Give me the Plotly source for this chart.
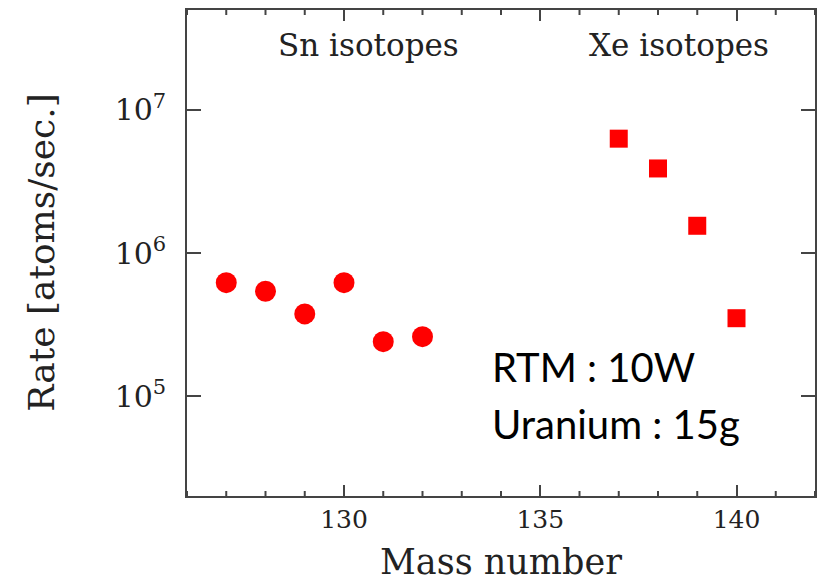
import math
import plotly.graph_objects as go

# Production rates of fission fragments at the ion source
sn_mass = [127, 128, 129, 130, 131, 132]
sn_rate = [6.2e5, 5.4e5, 3.75e5, 6.2e5, 2.4e5, 2.6e5]

xe_mass = [137, 138, 139, 140]
xe_rate = [6.3e6, 3.9e6, 1.55e6, 3.5e5]

serif = "DejaVu Serif, serif"
ink = "#222222"
axis_color = "#444444"

x_range = [126, 142]
y_range = [4.301, 7.699]  # log10 of 2e4 .. 5e7

# minor tick positions: every mass unit, and 2..9 within each decade
x_minor = [m for m in range(x_range[0], x_range[1] + 1) if m % 5]
y_minor = [math.log10(m * 10 ** e) for e in range(4, 8) for m in range(2, 10)]
y_minor = [v for v in y_minor if y_range[0] < v < y_range[1]]

fig = go.Figure()
fig.add_trace(go.Scatter(
    x=sn_mass, y=sn_rate, mode="markers", name="Sn",
    marker=dict(symbol="circle", size=21, color="#ff0000"),
))
fig.add_trace(go.Scatter(
    x=xe_mass, y=xe_rate, mode="markers", name="Xe",
    marker=dict(symbol="square", size=18, color="#ff0000"),
))

fig.update_layout(
    width=821, height=581,
    margin=dict(l=187, r=4, t=10, b=85),
    paper_bgcolor="white", plot_bgcolor="white",
    showlegend=False,
    font=dict(family=serif, color=ink),
    xaxis=dict(
        range=x_range,
        tickmode="linear", tick0=0, dtick=5,
        ticks="inside", ticklen=11, tickwidth=2, tickcolor=axis_color,
        showline=True, linewidth=2, linecolor=axis_color, mirror="allticks",
        showgrid=False, zeroline=False,
        tickfont=dict(family=serif, size=25, color=ink),
    ),
    yaxis=dict(
        type="log", range=y_range,
        tickmode="linear", tick0=0, dtick=1, exponentformat="power",
        ticks="inside", ticklen=14, tickwidth=2, tickcolor=axis_color,
        showline=True, linewidth=2, linecolor=axis_color, mirror="allticks",
        showgrid=False, zeroline=False,
        tickfont=dict(family=serif, size=24, color=ink),
        ticklabelstandoff=14,
    ),
)

# minor ticks on all four sides, drawn as short pixel-sized strokes
tick_line = dict(color=axis_color, width=2)
for m in x_minor:
    for anchor, length in ((0, 5), (1, -5)):
        fig.add_shape(type="line", xref="x", yref="paper",
                      x0=m, x1=m, ysizemode="pixel", yanchor=anchor,
                      y0=0, y1=length, line=tick_line, layer="above")
for v in y_minor:
    for anchor, length in ((0, 6), (1, -6)):
        fig.add_shape(type="line", xref="paper", yref="y",
                      y0=v, y1=v, xsizemode="pixel", xanchor=anchor,
                      x0=0, x1=length, line=tick_line, layer="above")

# axis titles
fig.add_annotation(x=-0.233, y=0.5, xref="paper", yref="paper", textangle=-90,
                   xanchor="center", yanchor="middle",
                   text="Rate [atoms/sec.]", showarrow=False,
                   font=dict(family=serif, size=36, color=ink))
fig.add_annotation(x=0.5, y=-0.135, xref="paper", yref="paper",
                   xanchor="center", yanchor="middle",
                   text="Mass number", showarrow=False,
                   font=dict(family=serif, size=35, color=ink))

# group labels
fig.add_annotation(x=0.141, y=0.928, xref="paper", yref="paper", xanchor="left",
                   yanchor="middle", text="Sn isotopes", showarrow=False,
                   font=dict(family=serif, size=31, color=ink))
fig.add_annotation(x=0.637, y=0.928, xref="paper", yref="paper", xanchor="left",
                   yanchor="middle", text="Xe isotopes", showarrow=False,
                   font=dict(family=serif, size=31, color=ink))

# run conditions
fig.add_annotation(x=0.482, y=0.265, xref="paper", yref="paper", xanchor="left",
                   yanchor="middle", text="RTM : 10W", showarrow=False,
                   font=dict(family="Lato", size=40, color="black"))
fig.add_annotation(x=0.482, y=0.149, xref="paper", yref="paper", xanchor="left",
                   yanchor="middle", text="Uranium : 15g", showarrow=False,
                   font=dict(family="Lato", size=40, color="black"))

fig.write_html("out.html")
